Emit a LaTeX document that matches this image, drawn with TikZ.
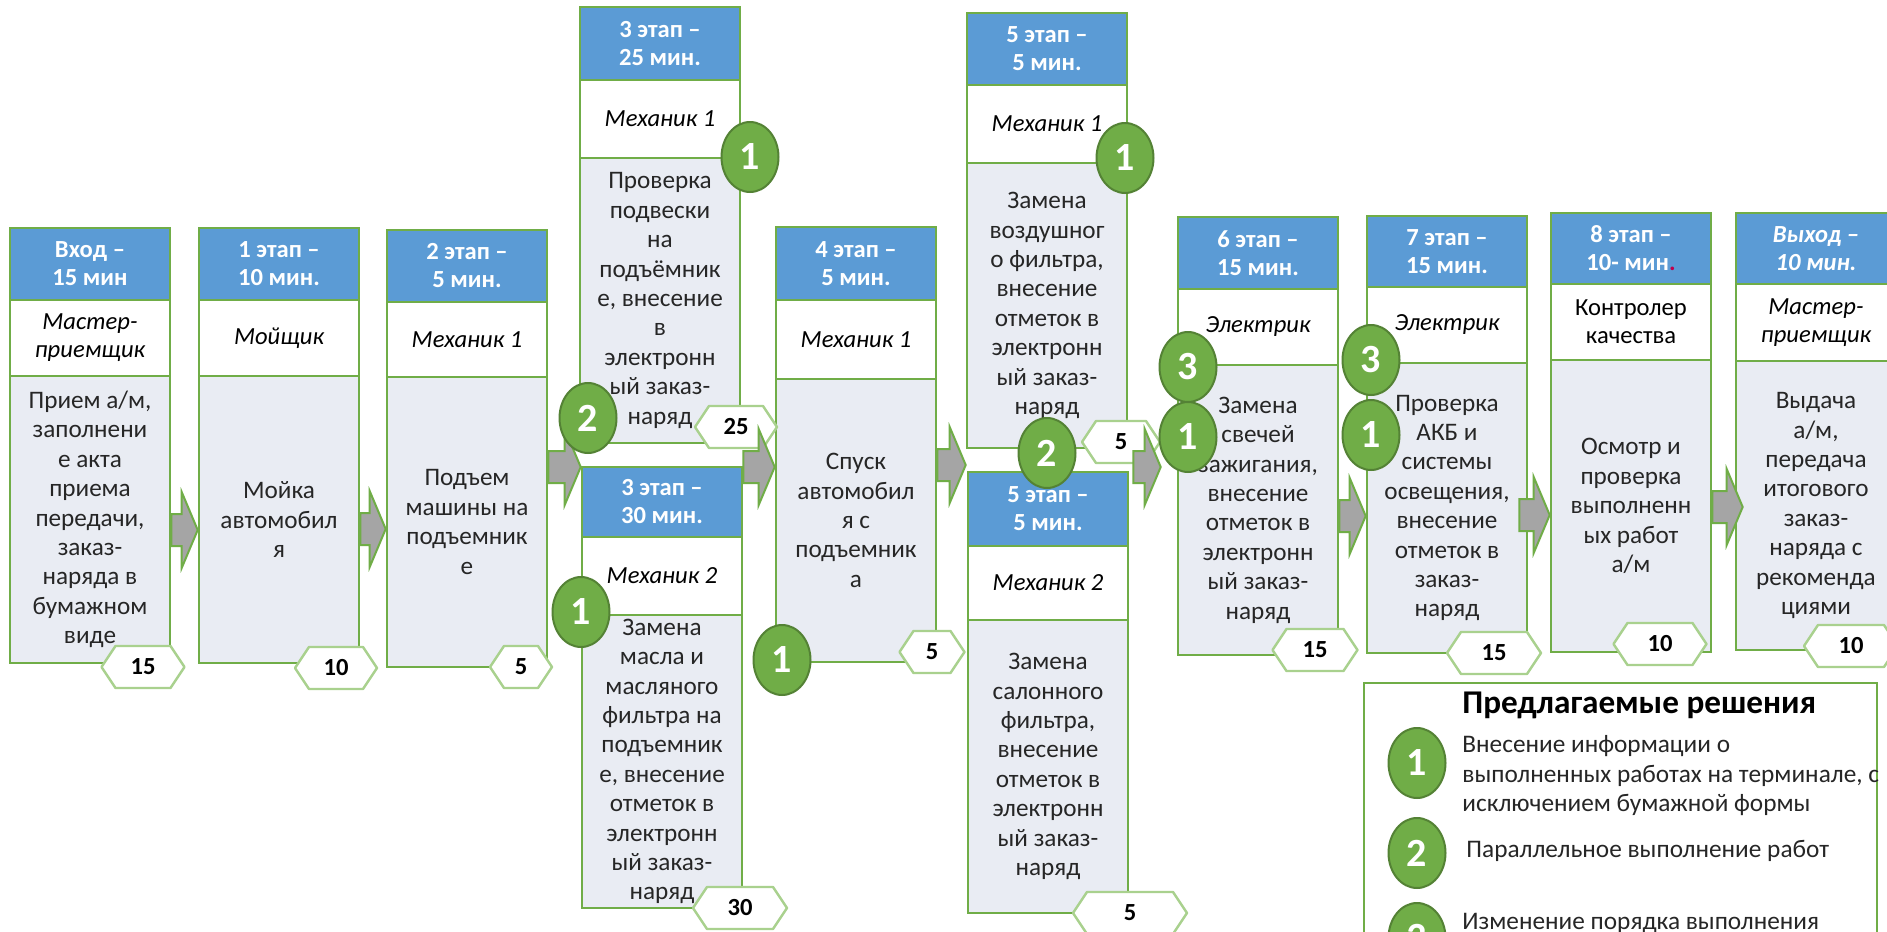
\documentclass[tikz,border=0pt]{standalone}
\usepackage{fontspec}
\setmainfont{Carlito}
\usetikzlibrary{shapes.geometric,fit,calc}

\definecolor{headblue}{HTML}{5B9BD5}
\definecolor{framegreen}{HTML}{70AD47}
\definecolor{darkgreen}{HTML}{548235}
\definecolor{bodygray}{HTML}{E9ECF3}
\definecolor{tagline}{HTML}{A9D18E}
\definecolor{arrowgray}{HTML}{A5A5A5}
\definecolor{inkgray}{HTML}{262626}
\definecolor{dotred}{HTML}{C0004C}

\tikzset{
  stageframe/.style={draw=framegreen, line width=1.3pt, inner sep=0pt, rectangle},
  divider/.style={draw=framegreen, line width=1.3pt},
  headtext/.style={text=white, font=\fontsize{12.3}{14}\selectfont\bfseries, align=center, inner sep=0pt},
  roletext/.style={text=black, font=\fontsize{12.3}{14}\selectfont\itshape, align=center, inner sep=0pt},
  bodytext/.style={text=inkgray, font=\fontsize{12.6}{14.7}\selectfont, align=center, inner sep=0pt},
  tagshape/.style={draw=tagline, fill=white, line width=1.2pt, line join=round},
  tagtext/.style={font=\fontsize{12.3}{14}\selectfont\bfseries, text=black, inner sep=0pt},
  badge/.style={ellipse, fill=framegreen, draw=darkgreen, line width=1pt,
    minimum width=28.5pt, minimum height=35pt, inner sep=0pt, text=white,
    font=\fontsize{20}{20}\selectfont\bfseries},
  flowarrow/.style={fill=arrowgray, draw=framegreen, line width=1pt, line join=miter},
  legendtext/.style={text=inkgray, font=\fontsize{12.65}{14.75}\selectfont, align=left, inner sep=0pt},
}

% stage card: name, left x, top y, header bottom, role bottom, card bottom, header, role, task
\newcommand\stage[9]{%
  \fill[headblue] (#2,#3) rectangle ({#2+160},#4);
  \fill[white] (#2,#4) rectangle ({#2+160},#5);
  \fill[bodygray] (#2,#5) rectangle ({#2+160},#6);
  \draw[divider] (#2,#4) -- ({#2+160},#4) (#2,#5) -- ({#2+160},#5);
  \node[stageframe, fit={(#2,#3) ({#2+160},#6)}] (#1) {};
  \node[headtext] (#1-head) at ({#2+80},{(#3+#4)/2}) {#7};
  \node[roletext] (#1-role) at ({#2+80},{(#4+#5)/2}) {#8};
  \node[bodytext] (#1-body) at ({#2+80},{(#5+#6)/2}) {#9};
}

% duration tag: name, centre x, centre y, half width, minutes
\newcommand\timetag[5]{%
  \draw[tagshape] ({#2-#4},#3) -- ({#2-#4+14},{#3-21}) -- ({#2+#4-14},{#3-21})
    -- ({#2+#4},#3) -- ({#2+#4-14},{#3+21}) -- ({#2-#4+14},{#3+21}) -- cycle;
  \node[tagtext] (#1) at (#2,#3) {#5};
}

% block arrow from one named point to another (same height)
\newcommand\flowarrow[2]{%
  \draw[flowarrow] let \p1=(#1), \p2=(#2) in
    (\x1,\y1-8pt) -- (\x2-8pt,\y1-8pt) -- (\x2-8pt,\y1-19pt) -- (\x2,\y1)
    -- (\x2-8pt,\y1+19pt) -- (\x2-8pt,\y1+8pt) -- (\x1,\y1+8pt) -- cycle;
}

\begin{document}
\begin{tikzpicture}[x=0.5pt,y=-0.5pt]
\useasboundingbox (0,0) rectangle (1887,932);
\clip (0,0) rectangle (1887,932);
\fill[white] (0,0) rectangle (1887,932);

\stage{A}{10}{228}{300}{376}{663}{Вход –\\15 мин}{Мастер-\\приемщик}
  {Прием а/м,\\заполнени\\е акта\\приема\\передачи,\\заказ-\\наряда в\\бумажном\\виде}
\stage{B}{199}{228}{300}{376}{663}{1 этап –\\10 мин.}{Мойщик}
  {Мойка\\автомобил\\я}
\stage{C}{387}{230}{302}{377}{667}{2 этап –\\5 мин.}{Механик 1}
  {Подъем\\машины на\\подъемник\\е}
\stage{D}{580}{7}{80}{158}{443}{3 этап –\\25 мин.}{Механик 1}
  {Проверка\\подвески\\на\\подъёмник\\е, внесение\\в\\электронн\\ый заказ-\\наряд}
\stage{E}{582}{467}{537}{615}{908}{3 этап –\\30 мин.}{Механик 2}
  {Замена\\масла и\\масляного\\фильтра на\\подъемник\\е, внесение\\отметок в\\электронн\\ый заказ-\\наряд}
\stage{F}{776}{227}{300}{379}{662}{4 этап –\\5 мин.}{Механик 1}
  {Спуск\\автомобил\\я с\\подъемник\\а}
\stage{G}{967}{13}{85}{163}{448}{5 этап –\\5 мин.}{Механик 1}
  {Замена\\воздушног\\о фильтра,\\внесение\\отметок в\\электронн\\ый заказ-\\наряд}
\stage{H}{968}{472}{546}{620}{913}{5 этап –\\5 мин.}{Механик 2}
  {Замена\\салонного\\фильтра,\\внесение\\отметок в\\электронн\\ый заказ-\\наряд}
\stage{I}{1178}{217}{289}{365}{655}{6 этап –\\15 мин.}{Электрик}
  {Замена\\свечей\\зажигания,\\внесение\\отметок в\\электронн\\ый заказ-\\наряд}
\stage{J}{1367}{216}{287}{363}{653}{7 этап –\\15 мин.}{Электрик}
  {Проверка\\АКБ и\\системы\\освещения,\\внесение\\отметок в\\заказ-\\наряд}
\stage{K}{1551}{213}{284}{360}{652}{8 этап –\\10- мин{\color{dotred}.}}{\upshape Контролер\\\upshape качества}
  {Осмотр и\\проверка\\выполненн\\ых работ\\а/м}
\stage{L}{1736}{213}{284}{361}{650}{\itshape Выход –\\\itshape 10 мин.}{Мастер-\\приемщик}
  {Выдача\\а/м,\\передача\\итогового\\заказ-\\наряда с\\рекоменда\\циями}

% durations
\timetag{tA}{143}{667}{41.5}{15}
\timetag{tB}{336}{668}{41}{10}
\timetag{tC}{521}{667}{31}{5}
\timetag{tD}{736}{427}{41}{25}
\timetag{tE}{740}{908}{47}{30}
\timetag{tF}{932}{652}{32.5}{5}
\timetag{tG}{1121}{442}{39}{5}
\timetag{tH}{1130}{913}{57}{5}
\timetag{tI}{1315}{650}{42.5}{15}
\timetag{tJ}{1494}{653}{47}{15}
\timetag{tK}{1660}{644}{46.5}{10}
\timetag{tL}{1851}{646}{47}{10}

% flow between stages
\coordinate (ab1) at (A.east |- 0,530);  \coordinate (ab2) at (B.west |- 0,530);
\coordinate (bc1) at (B.east |- 0,529);  \coordinate (bc2) at (C.west |- 0,529);
\coordinate (ce1) at (C.east |- 0,467);  \coordinate (ce2) at (E.west |- 0,467);
\coordinate (ef1) at (E.east |- 0,467);  \coordinate (ef2) at (F.west |- 0,467);
\coordinate (fg1) at (F.east |- 0,465);  \coordinate (fg2) at (G.west |- 0,465);
\coordinate (gi1) at ($(G.east |- 0,467)+(5,0)$);  \coordinate (gi2) at ($(I.west |- 0,467)+(-16,0)$);
\coordinate (ij1) at (I.east |- 0,516);  \coordinate (ij2) at (J.west |- 0,516);
\coordinate (jk1) at ($(J.east |- 0,515)+(-9,0)$);  \coordinate (jk2) at (K.west |- 0,515);
\coordinate (kl1) at (K.east |- 0,507);  \coordinate (kl2) at ($(L.west |- 0,507)+(8,0)$);
\flowarrow{ab1}{ab2}
\flowarrow{bc1}{bc2}
\flowarrow{ce1}{ce2}
\flowarrow{ef1}{ef2}
\flowarrow{fg1}{fg2}
\flowarrow{gi1}{gi2}
\flowarrow{ij1}{ij2}
\flowarrow{jk1}{jk2}
\flowarrow{kl1}{kl2}

% improvement markers
\node[badge] (mD1) at (750,157) {1};
\node[badge] (mD2) at (588,418) {2};
\node[badge] (mE1) at (581,612) {1};
\node[badge] (mF1) at (782,660) {1};
\node[badge] (mG1) at (1125,158) {1};
\node[badge] (mG2) at (1047,453) {2};
\node[badge] (mI3) at (1188,367) {3};
\node[badge] (mI1) at (1188,437) {1};
\node[badge] (mJ3) at (1371,360) {3};
\node[badge] (mJ1) at (1371,435) {1};

% legend
\node[stageframe, fill=white, fit={(1364,683) (1877,960)}] (legend) {};
\node[anchor=base west, inner sep=0pt, text=black, font=\fontsize{16.6}{18}\selectfont\bfseries]
  (legend-title) at (1462,713) {Предлагаемые решения};
\node[badge] (lg1) at (1417,763) {1};
\node[legendtext, anchor=west] (lg1-text) at (1462,776)
  {Внесение информации о\\выполненных работах на терминале, с\\исключением бумажной формы};
\node[badge] (lg2) at (1417,853) {2};
\node[legendtext, anchor=base west] (lg2-text) at (1466,857) {Параллельное выполнение работ};
\node[badge] (lg3) at (1417,938) {3};
\node[legendtext, anchor=base west] (lg3-text) at (1462,929) {Изменение порядка выполнения};
\end{tikzpicture}
\end{document}
